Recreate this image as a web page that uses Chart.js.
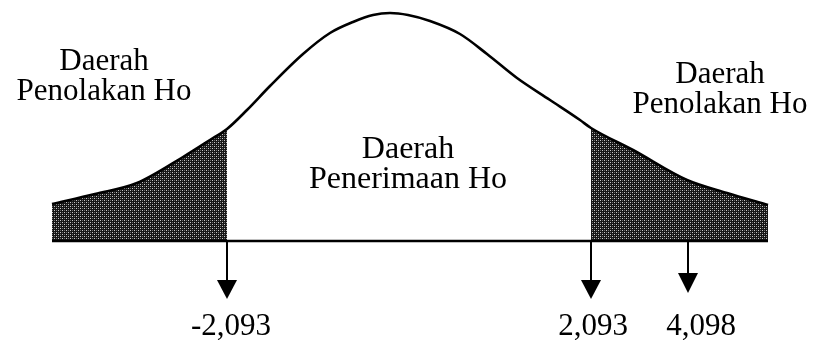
<!DOCTYPE html>
<html>
<head>
<meta charset="utf-8">
<script src="https://cdn.jsdelivr.net/npm/chart.js@4.4.1/dist/chart.umd.min.js"></script>
<style>
  html, body { margin: 0; padding: 0; background: #fff; }
</style>
</head>
<body>
<canvas id="kurvaChart" width="817" height="340"></canvas>
<script>
// bell curve, schematic units (x along the page, y = height above the baseline)
const kurvaX = [52, 95, 137, 183, 213, 227, 247, 270, 303, 330, 353, 373, 390, 408, 430, 460, 487, 517, 550, 580, 591, 633, 687, 727, 768];
const kurvaY = [37, 47, 58, 84, 103, 112, 131, 155, 187, 208, 219, 226, 228, 226, 220, 207, 187, 163, 141, 121, 113, 91, 61, 48, 36];

// critical values and the t statistic
const batasX = [227, 591, 688];
const batasLabel = ['-2,093', '2,093', '4,098'];

const judulKiri = ['Daerah', 'Penolakan Ho'];
const judulTengah = ['Daerah', 'Penerimaan Ho'];
const judulKanan = ['Daerah', 'Penolakan Ho'];

const points = kurvaX.map((x, i) => ({ x: x, y: kurvaY[i] }));
const ekorKiri = points.filter(p => p.x <= batasX[0]);
const ekorKanan = points.filter(p => p.x >= batasX[1]);

// halftone shading for the rejection areas
function makePattern() {
  const c = document.createElement('canvas');
  c.width = 4; c.height = 4;
  const g = c.getContext('2d');
  g.fillStyle = '#161616';
  g.fillRect(0, 0, 4, 4);
  g.fillStyle = '#c8c8c8';
  g.fillRect(0, 0, 1, 1);
  g.fillRect(2, 2, 1, 1);
  g.fillStyle = '#6a6a6a';
  g.fillRect(2, 0, 1, 1);
  g.fillRect(0, 2, 1, 1);
  return g.createPattern(c, 'repeat');
}
const arsir = makePattern();

const FONT = '31px "Liberation Serif", "Times New Roman", serif';
const FONT_TENGAH = '32px "Liberation Serif", "Times New Roman", serif';

const textPlugin = {
  id: 'teks',
  afterDraw(chart) {
    const { ctx, scales: { x, y } } = chart;
    ctx.save();

    // arrows below the baseline
    const arrowTop = [-39, -39, -32];
    const arrowTip = [-58, -58, -52];
    batasX.forEach((v, i) => {
      const px = x.getPixelForValue(v);
      const y0 = y.getPixelForValue(0);
      const yHead = y.getPixelForValue(arrowTop[i]);
      const yTip = y.getPixelForValue(arrowTip[i]);
      ctx.strokeStyle = '#000';
      ctx.lineWidth = 2;
      ctx.beginPath();
      ctx.moveTo(px, y0);
      ctx.lineTo(px, yHead + 1);
      ctx.stroke();
      ctx.fillStyle = '#000';
      ctx.beginPath();
      ctx.moveTo(px - 10, yHead);
      ctx.lineTo(px + 10, yHead);
      ctx.lineTo(px, yTip);
      ctx.closePath();
      ctx.fill();
    });

    ctx.font = FONT;
    ctx.fillStyle = '#000';
    ctx.textAlign = 'center';
    ctx.textBaseline = 'alphabetic';

    const labelShift = [4, 2, 13];
    batasLabel.forEach((t, i) => {
      ctx.fillText(t, x.getPixelForValue(batasX[i] + labelShift[i]), y.getPixelForValue(-94));
    });

    const blok = (lines, cx, base) => {
      lines.forEach((t, i) => {
        ctx.fillText(t, x.getPixelForValue(cx), y.getPixelForValue(base - i * 30));
      });
    };
    blok(judulKiri, 104, 171);
    blok(judulKanan, 720, 158);
    ctx.font = FONT_TENGAH;
    blok(judulTengah, 408, 83);

    ctx.restore();
  }
};

const garis = {
  pointRadius: 0,
  cubicInterpolationMode: 'monotone'
};

new Chart(document.getElementById('kurvaChart').getContext('2d'), {
  type: 'line',
  data: {
    datasets: [{
      ...garis,
      data: ekorKiri,
      borderWidth: 0,
      fill: 'origin',
      backgroundColor: arsir,
      order: 3
    }, {
      ...garis,
      data: ekorKanan,
      borderWidth: 0,
      fill: 'origin',
      backgroundColor: arsir,
      order: 3
    }, {
      ...garis,
      data: points,
      borderColor: '#000',
      borderWidth: 2.6,
      fill: false,
      order: 1
    }, {
      // baseline
      data: [{ x: kurvaX[0], y: 0 }, { x: kurvaX[kurvaX.length - 1], y: 0 }],
      borderColor: '#000',
      borderWidth: 2.5,
      pointRadius: 0,
      fill: false,
      order: 2
    }]
  },
  options: {
    responsive: false,
    animation: false,
    layout: { padding: 0 },
    plugins: {
      legend: { display: false },
      tooltip: { enabled: false }
    },
    scales: {
      x: { type: 'linear', min: 0, max: 817, display: false },
      y: { type: 'linear', min: -99, max: 241, display: false }
    }
  },
  plugins: [textPlugin]
});
</script>
</body>
</html>
